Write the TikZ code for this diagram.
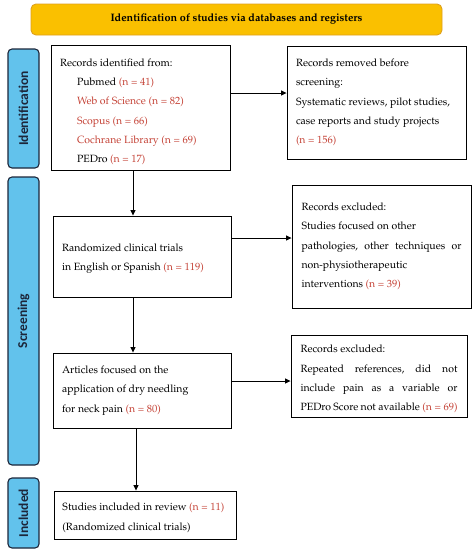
\documentclass[tikz,border=0pt]{standalone}
\usepackage{fontspec}
\newfontfamily\sidefont{Carlito}
\usetikzlibrary{arrows.meta,calc}
\newcommand{\pal}{\fontencoding{OT1}\fontfamily{ppl}\selectfont}
\definecolor{nred}{RGB}{196,66,54}
\definecolor{sideblue}{RGB}{98,194,236}
\definecolor{sidedark}{RGB}{28,38,58}
\definecolor{banner}{RGB}{250,192,0}
\definecolor{bannerline}{RGB}{222,160,30}
\newcommand{\nr}[1]{\textcolor{nred}{#1}}
\begin{document}
\begin{tikzpicture}[x=1pt,y=-1pt,
  box/.style={draw, line width=0.9pt, inner xsep=9pt, inner ysep=0pt, align=flush left,
    font=\pal\fontsize{10.5}{19.3}\selectfont, anchor=center},
  side/.style={draw=sidedark, line width=1.1pt, fill=sideblue, rounded corners=4pt,
    minimum height=31pt, inner sep=0pt, rotate=90, text=sidedark,
    font=\sidefont\bfseries\fontsize{13.5}{15}\selectfont},
  arr/.style={line width=0.8pt, -{Triangle[length=5.5pt,width=5pt]}}]
\useasboundingbox (0,0) rectangle (475,550);
% banner
\node[draw=bannerline, line width=0.9pt, fill=banner, rounded corners=5pt,
  minimum width=411pt, minimum height=31pt, inner sep=0pt,
  font=\pal\bfseries\fontsize{10.8}{12}\selectfont] (ban) at (236.5,19.5)
  {Identification of studies via databases and registers};
% side bars
\node[side, minimum width=119pt] (sid) at (23.5,108.5) {Identification};
\node[side, minimum width=288pt] (sscr) at (23.5,321) {Screening};
\node[side, minimum width=70pt] (sinc) at (23.5,513) {Included};
% boxes
\node[box, text width=161pt, minimum height=125pt] (b1) at (140.5,107.5)
  {\rule{0pt}{16pt}Records identified from:\\
   \hspace*{17pt}Pubmed \nr{(n = 41)}\\
   \hspace*{17pt}\nr{Web of Science (n = 82)}\\
   \hspace*{17pt}\nr{Scopus (n = 66)}\\
   \hspace*{17pt}\nr{Cochrane Library (n = 69)}\\
   \hspace*{17pt}PEDro \nr{(n = 17)}};
\node[box, text width=161pt, minimum height=113pt] (b2) at (376.5,102.5)
  {Records removed before\\
   screening:\\
   Systematic reviews, pilot studies,\\
   case reports and study projects\\
   \nr{(n = 156)}};
\node[box, text width=160pt, minimum height=81pt] (b3) at (142,256.5)
  {\rule{0pt}{12pt}Randomized clinical trials\\
   in English or Spanish \nr{(n = 119)}};
\node[box, inner xsep=9.5pt, text width=160pt, minimum height=123pt] (b4) at (381.5,246.5)
  {Records excluded:\\
   Studies focused on other\\
   pathologies,\hfill other\hfill techniques\hfill or\\
   non-physiotherapeutic\\
   interventions \nr{(n = 39)}};
\node[box, text width=160pt, minimum height=75pt] (b5) at (142,390.5)
  {Articles focused on the\\
   application of dry needling\\
   for neck pain \nr{(n = 80)}};
\node[box, inner xsep=9.5pt, text width=157pt, minimum height=82pt] (b6) at (379,376)
  {\rule{0pt}{14pt}Records excluded:\\
   Repeated\hfill references,\hfill did\hfill not\\
   include\hfill pain\hfill as\hfill a\hfill variable\hfill or\\
   PEDro\hfill Score\hfill not\hfill available\hfill \nr{(n = 69)}};
\node[box, inner xsep=8.5pt, text width=165pt, minimum height=48pt] (b7) at (145,515)
  {\rule{0pt}{13pt}Studies included in review \nr{(n = 11)}\\
   (Randomized clinical trials)};
% connectors
\draw[arr] ([yshift=14.5pt]b1.east) coordinate (a1) -- (a1 -| b2.west);
\draw[arr] ([xshift=-7.5pt]b1.south) coordinate (a2) -- (a2 |- b3.north);
\draw[arr] ([yshift=18.5pt]b3.east) coordinate (a3) -- (a3 -| b4.west);
\draw[arr] ([xshift=-9pt]b3.south) coordinate (a4) -- (a4 |- b5.north);
\draw[arr] ([yshift=9.5pt]b5.east) coordinate (a5) -- (a5 -| b6.west);
\draw[arr] ([xshift=-6pt]b5.south) coordinate (a6) -- (a6 |- b7.north);
\end{tikzpicture}
\end{document}
